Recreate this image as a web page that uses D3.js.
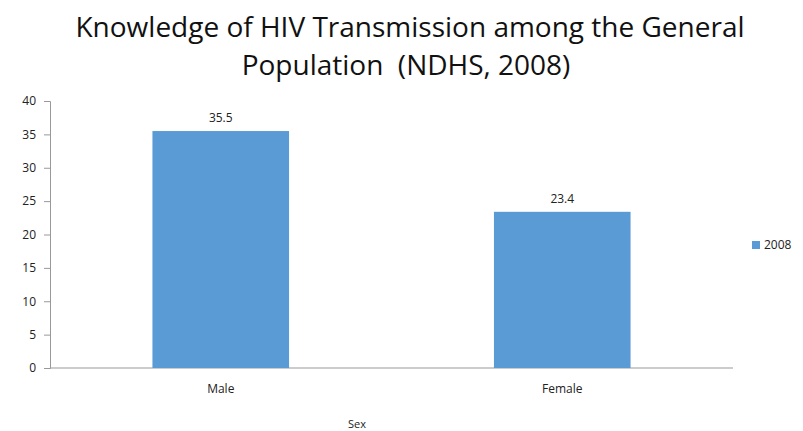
<!DOCTYPE html>
<html><head><meta charset="utf-8">
<script src="https://cdn.jsdelivr.net/npm/d3@7"></script>
<style>body{margin:0;background:#fff}svg{display:block}text{white-space:pre}</style>
</head><body>
<svg id="c" width="803" height="431"></svg>
<script>
const categories = ["Male", "Female"];
const values2008 = [35.5, 23.4];
const yTicks = [0, 5, 10, 15, 20, 25, 30, 35, 40];
const seriesName = "2008";
const titleLines = ["Knowledge of HIV Transmission among the General", "Population  (NDHS, 2008)"];
const xTitle = "Sex";

const svg = d3.select("#c");
const font = "'Open Sans', 'DejaVu Sans', sans-serif";
const color = "#5b9bd5";

const x = d3.scaleBand().domain(categories).range([50, 733]).paddingInner(0.6).paddingOuter(0.3);
const y = d3.scaleLinear().domain([0, 40]).range([368, 101]);

// title
const t1 = svg.append("text").attr("x", 410).attr("y", 37).attr("text-anchor", "middle")
  .attr("font-family", font).attr("font-size", 28).attr("fill", "#111").text(titleLines[0]);
const w = t1.node().getComputedTextLength();
const fs = Math.min(28, 28 * 695 / w);
t1.attr("font-size", fs);
svg.append("text").attr("x", 406).attr("y", 75).attr("text-anchor", "middle")
  .attr("font-family", font).attr("font-size", fs).attr("fill", "#111").text(titleLines[1]);

// y axis
const yAxis = d3.axisLeft(y).tickValues(yTicks).tickSize(6).tickPadding(8);
const gy = svg.append("g").attr("transform", "translate(50,0)").call(yAxis);
gy.select(".domain").attr("stroke", "#999");
gy.selectAll(".tick line").attr("stroke", "#999");
gy.selectAll(".tick text").attr("font-family", font).attr("font-size", 12).attr("fill", "#222");

// x axis
const xAxis = d3.axisBottom(x).tickSize(0).tickPadding(16);
const gx = svg.append("g").attr("transform", "translate(0,368)").call(xAxis);
gx.select(".domain").attr("stroke", "#999").attr("d", "M50,0H733");
gx.selectAll(".tick text").attr("font-family", font).attr("font-size", 12).attr("fill", "#222");

// bars
svg.selectAll("rect.bar").data(values2008).enter().append("rect").attr("class", "bar")
  .attr("x", (d, i) => x(categories[i])).attr("width", x.bandwidth())
  .attr("y", d => y(d)).attr("height", d => y(0) - y(d)).attr("fill", color);

// data labels
svg.selectAll("text.lbl").data(values2008).enter().append("text").attr("class", "lbl")
  .attr("x", (d, i) => x(categories[i]) + x.bandwidth() / 2).attr("y", d => y(d) - 9)
  .attr("text-anchor", "middle").attr("font-family", font).attr("font-size", 12).attr("fill", "#222")
  .text(d => d);

// x title
svg.append("text").attr("x", 357).attr("y", 428).attr("text-anchor", "middle")
  .attr("font-family", font).attr("font-size", 11).attr("fill", "#222").text(xTitle);

// legend
svg.append("rect").attr("x", 752).attr("y", 241).attr("width", 8).attr("height", 8).attr("fill", color);
svg.append("text").attr("x", 764).attr("y", 249).attr("font-family", font).attr("font-size", 12)
  .attr("fill", "#222").text(seriesName);
</script>
</body></html>
